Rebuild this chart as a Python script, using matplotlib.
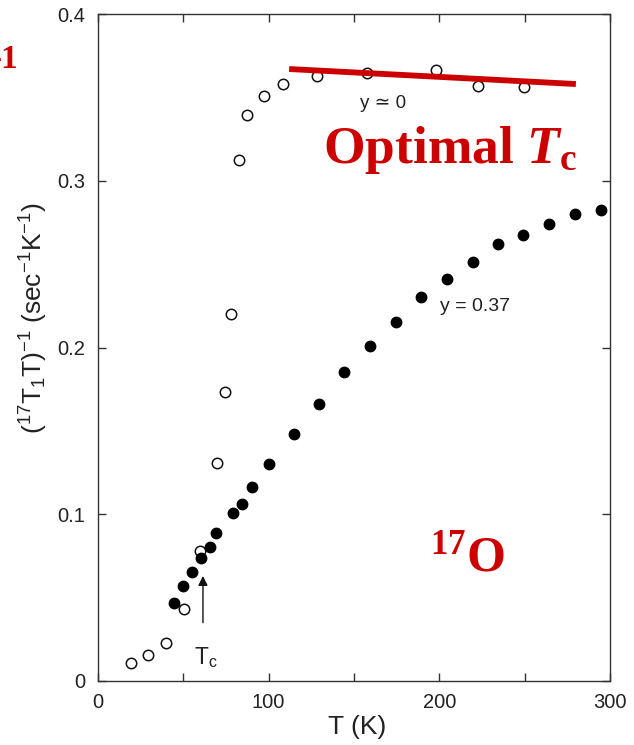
import matplotlib
matplotlib.use("Agg")
import matplotlib.pyplot as plt

# Relaxation rate of 17O vs temperature
# open circles: optimally doped (y ~ 0), filled circles: y = 0.37
T_open = [19.2, 29.1, 39.8, 50.4, 59.8, 69.5, 74.4, 78.1, 82.8, 87.5,
          97.2, 108.2, 128.1, 157.8, 197.8, 222.8, 249.7]
rate_open = [0.0110, 0.0156, 0.0230, 0.0430, 0.0780, 0.1307, 0.1735, 0.2201,
             0.3124, 0.3394, 0.3506, 0.3580, 0.3628, 0.3644, 0.3664, 0.3568, 0.3564]

T_filled = [44.7, 50.0, 54.9, 60.2, 65.6, 69.1, 79.3, 84.5, 90.4, 100.4,
            114.6, 129.3, 144.3, 159.5, 174.8, 189.0, 204.6, 219.5, 234.2,
            248.8, 264.4, 279.6, 294.7]
rate_filled = [0.0466, 0.0570, 0.0655, 0.0736, 0.0805, 0.0886, 0.1006, 0.1060,
               0.1162, 0.1300, 0.1479, 0.1659, 0.1855, 0.2011, 0.2153, 0.2301,
               0.2411, 0.2515, 0.2619, 0.2675, 0.2743, 0.2803, 0.2825]

# red guide line through the flat part of the y ~ 0 data
line_T = [112, 280]
line_rate = [0.367, 0.358]

# Tc arrow (tail, head)
tc_T = 61.5
tc_rate = [0.035, 0.063]

x_ticks = [0, 50, 100, 150, 200, 250, 300]
x_labels = ["0", "", "100", "", "200", "", "300"]
y_ticks = [0, 0.1, 0.2, 0.3, 0.4]
y_labels = ["0", "0.1", "0.2", "0.3", "0.4"]

RED = "#cc0000"
INK = "#222222"

plt.rcParams["mathtext.fontset"] = "custom"
plt.rcParams["mathtext.rm"] = "Liberation Serif:bold"
plt.rcParams["mathtext.it"] = "Liberation Serif:italic:bold"
plt.rcParams["mathtext.bf"] = "Liberation Serif:bold"

fig = plt.figure(figsize=(6.34, 7.45), dpi=100)
ax = fig.add_axes([98 / 634, 1 - 681 / 745, 512 / 634, 667 / 745])

ax.plot(T_open, rate_open, "o", mfc="white", mec="#111111", mew=1.1, ms=7.5,
        zorder=3)
ax.plot(T_filled, rate_filled, "o", mfc="black", mec="black", ms=7.5, zorder=3)
ax.plot(line_T, line_rate, color=RED, lw=4.2, solid_capstyle="butt", zorder=4)

ax.annotate("", xy=(tc_T, tc_rate[1]), xytext=(tc_T, tc_rate[0]),
            arrowprops=dict(arrowstyle="-|>", color="#111111", lw=1.0,
                            mutation_scale=14, shrinkA=0, shrinkB=0))

sans = ["Liberation Sans", "DejaVu Sans"]
ax.text(56.5, 0.0095, r"T$_\mathregular{c}$", fontsize=16.5, family=sans,
        color=INK, va="baseline")
ax.text(167, 0.3466, "y \u2243 0", fontsize=13.5, family=sans, color=INK,
        ha="center", va="center")
ax.text(200.4, 0.2243, "y = 0.37", fontsize=14, family=sans, color=INK,
        ha="left", va="center")

ax.set_xlim(0, 300)
ax.set_ylim(0, 0.4)
ax.set_xticks(x_ticks)
ax.set_xticklabels(x_labels)
ax.set_yticks(y_ticks)
ax.set_yticklabels(y_labels)
ax.tick_params(direction="in", length=6, width=1, color="#333333",
               top=True, right=True, labelsize=14.5, labelcolor=INK, pad=9)
for lab in ax.get_xticklabels() + ax.get_yticklabels():
    lab.set_family(sans)
for sp in ax.spines.values():
    sp.set_color("#333333")
    sp.set_linewidth(1.0)

fig.text(357 / 634, 1 - 727 / 745, "T (K)", fontsize=19, family=sans,
         color=INK, ha="center", va="center")
fig.text(34 / 634, 1 - 318 / 745,
         r"$\mathregular{(^{17}T_1T)^{-1}\ (sec^{-1}K^{-1})}$",
         fontsize=19, family=sans, color=INK, rotation=90,
         ha="center", va="center")

# red annotations
fig.text(323 / 634, 1 - 163 / 745, r"Optimal $T_{\mathbf{c}}$", fontsize=38.5,
         family="Liberation Serif", weight="bold", color=RED, va="baseline")
fig.text(430 / 634, 1 - 571 / 745, r"$^{17}$O", fontsize=36,
         family="Liberation Serif", weight="bold", color=RED, va="baseline")
fig.text(19 / 634, 1 - 68 / 745, "-1", fontsize=24,
         family="Liberation Serif", weight="bold", color=RED,
         ha="right", va="baseline")

fig.savefig("out.png", dpi=100)
